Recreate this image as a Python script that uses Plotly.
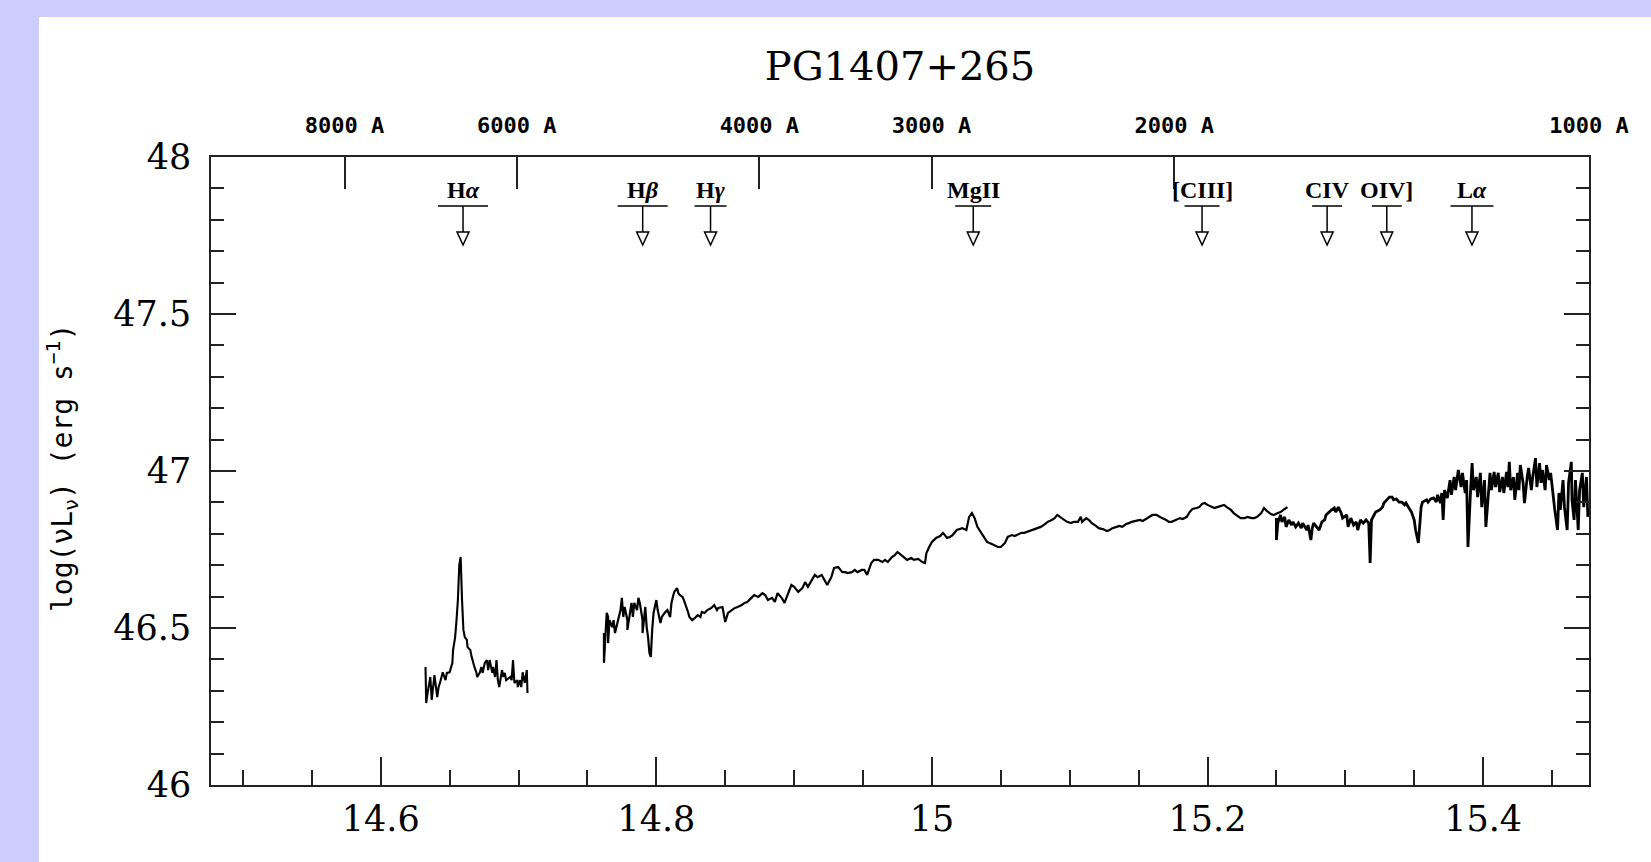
import numpy as np
import plotly.graph_objects as go

# ---------------- data ----------------
C_ANG = 2.998e18  # speed of light in Angstrom/s

title_text = "PG1407+265"

# H-alpha segment: log(nu), log(nu L_nu)
ha_x = [14.6325, 14.6330, 14.634, 14.636, 14.637, 14.638, 14.639, 14.641, 14.642, 14.643,
        14.645, 14.647, 14.648, 14.650, 14.652, 14.6525, 14.654, 14.655, 14.656, 14.657,
        14.658, 14.659, 14.660, 14.661, 14.6625, 14.663, 14.665, 14.666, 14.667, 14.668,
        14.6695, 14.670, 14.672, 14.673, 14.674, 14.6755, 14.677, 14.678, 14.679, 14.681,
        14.6815, 14.683, 14.684, 14.685, 14.686, 14.688, 14.689, 14.690, 14.691, 14.694,
        14.695, 14.696, 14.697, 14.699, 14.6995, 14.701, 14.702, 14.703, 14.7045, 14.706,
        14.7065]
ha_y = [46.376, 46.261, 46.293, 46.344, 46.271, 46.325, 46.350, 46.280, 46.312, 46.325,
        46.359, 46.334, 46.357, 46.359, 46.389, 46.430, 46.471, 46.525, 46.589, 46.700,
        46.726, 46.589, 46.494, 46.471, 46.462, 46.439, 46.430, 46.408, 46.389, 46.376,
        46.357, 46.344, 46.359, 46.376, 46.357, 46.389, 46.398, 46.366, 46.398, 46.357,
        46.376, 46.344, 46.398, 46.334, 46.312, 46.366, 46.344, 46.357, 46.334, 46.344,
        46.334, 46.398, 46.325, 46.334, 46.312, 46.334, 46.312, 46.359, 46.325, 46.366,
        46.293]

# optical segment
opt_x = [14.762, 14.762, 14.764, 14.765, 14.765, 14.766, 14.768, 14.769, 14.770, 14.771,
         14.772, 14.774, 14.775, 14.776, 14.777, 14.779, 14.779, 14.781, 14.782, 14.783,
         14.784, 14.786, 14.787, 14.788, 14.790, 14.790, 14.792, 14.793, 14.794, 14.795,
         14.796, 14.797, 14.798, 14.800, 14.801, 14.803, 14.804, 14.806, 14.808, 14.810,
         14.811, 14.812, 14.813, 14.815, 14.816, 14.817, 14.819, 14.820, 14.822, 14.823,
         14.824, 14.826, 14.828, 14.830, 14.832, 14.833, 14.835, 14.837, 14.840, 14.842,
         14.844, 14.845, 14.848, 14.849, 14.850, 14.852, 14.855, 14.857, 14.859, 14.862,
         14.864, 14.866, 14.869, 14.871, 14.874, 14.877, 14.879, 14.881, 14.884, 14.886,
         14.888, 14.891, 14.893, 14.895, 14.898, 14.900, 14.903, 14.906, 14.908, 14.910,
         14.913, 14.915, 14.917, 14.920, 14.922, 14.924, 14.927, 14.929, 14.932, 14.935,
         14.937, 14.939, 14.942, 14.944, 14.946, 14.949, 14.951, 14.953, 14.956, 14.958,
         14.961, 14.964, 14.966, 14.968, 14.971, 14.973, 14.975, 14.978, 14.980, 14.982,
         14.985, 14.987, 14.990, 14.993, 14.995, 14.996, 14.998, 15.000, 15.003, 15.006,
         15.008, 15.011, 15.013, 15.015, 15.018, 15.020, 15.022, 15.025, 15.027, 15.029,
         15.031, 15.033, 15.036, 15.038, 15.040, 15.043, 15.045, 15.048, 15.050, 15.053,
         15.055, 15.058, 15.060, 15.062, 15.065, 15.067, 15.069, 15.072, 15.074, 15.077,
         15.079, 15.082, 15.084, 15.087, 15.089, 15.091, 15.094, 15.096, 15.098, 15.101,
         15.103, 15.106, 15.108, 15.109, 15.112, 15.114, 15.116, 15.119, 15.121, 15.124,
         15.127, 15.129, 15.131, 15.134, 15.136, 15.138, 15.141, 15.143, 15.145, 15.148,
         15.151, 15.153, 15.156, 15.158, 15.160, 15.163, 15.165, 15.167, 15.170, 15.172,
         15.174, 15.177, 15.180, 15.182, 15.185, 15.187, 15.189, 15.192, 15.194, 15.196,
         15.198, 15.200, 15.203, 15.205, 15.207, 15.210, 15.212, 15.214, 15.217, 15.219,
         15.222, 15.224, 15.227, 15.229, 15.232, 15.234, 15.236, 15.239, 15.241, 15.243,
         15.246, 15.248, 15.251, 15.253, 15.256, 15.258]
opt_y = [46.484, 46.389, 46.548, 46.535, 46.452, 46.525, 46.503, 46.525, 46.484, 46.503,
         46.525, 46.557, 46.596, 46.535, 46.567, 46.525, 46.494, 46.548, 46.580, 46.535,
         46.580, 46.557, 46.596, 46.580, 46.525, 46.484, 46.567, 46.503, 46.471, 46.420,
         46.408, 46.494, 46.548, 46.589, 46.557, 46.516, 46.535, 46.548, 46.557, 46.535,
         46.580, 46.599, 46.615, 46.627, 46.611, 46.605, 46.599, 46.589, 46.567, 46.551,
         46.535, 46.525, 46.532, 46.541, 46.535, 46.551, 46.548, 46.557, 46.564, 46.573,
         46.557, 46.564, 46.567, 46.535, 46.519, 46.548, 46.557, 46.564, 46.567, 46.573,
         46.580, 46.583, 46.596, 46.605, 46.599, 46.611, 46.605, 46.589, 46.596, 46.583,
         46.611, 46.596, 46.580, 46.605, 46.637, 46.631, 46.615, 46.627, 46.646, 46.631,
         46.653, 46.669, 46.662, 46.669, 46.653, 46.637, 46.662, 46.691, 46.694, 46.678,
         46.678, 46.675, 46.678, 46.685, 46.678, 46.685, 46.685, 46.669, 46.707, 46.717,
         46.717, 46.710, 46.717, 46.710, 46.726, 46.732, 46.742, 46.732, 46.726, 46.717,
         46.723, 46.717, 46.720, 46.710, 46.707, 46.739, 46.758, 46.774, 46.787, 46.793,
         46.803, 46.787, 46.790, 46.796, 46.812, 46.815, 46.818, 46.812, 46.854, 46.866,
         46.850, 46.822, 46.803, 46.787, 46.774, 46.768, 46.764, 46.758, 46.758, 46.771,
         46.790, 46.796, 46.793, 46.796, 46.803, 46.803, 46.806, 46.812, 46.815, 46.818,
         46.822, 46.831, 46.838, 46.844, 46.850, 46.860, 46.850, 46.844, 46.838, 46.834,
         46.838, 46.838, 46.854, 46.838, 46.850, 46.844, 46.834, 46.825, 46.818, 46.815,
         46.809, 46.812, 46.818, 46.822, 46.825, 46.822, 46.831, 46.834, 46.838, 46.841,
         46.844, 46.841, 46.850, 46.854, 46.860, 46.860, 46.854, 46.850, 46.844, 46.838,
         46.838, 46.844, 46.850, 46.847, 46.854, 46.869, 46.879, 46.882, 46.885, 46.895,
         46.898, 46.892, 46.885, 46.882, 46.885, 46.889, 46.892, 46.885, 46.876, 46.866,
         46.857, 46.850, 46.850, 46.854, 46.850, 46.850, 46.854, 46.866, 46.882, 46.873,
         46.863, 46.860, 46.866, 46.869, 46.879, 46.885]

# UV segment
uv_x = [15.250, 15.250, 15.251, 15.253, 15.254, 15.256, 15.257, 15.259, 15.261, 15.262,
        15.264, 15.266, 15.268, 15.269, 15.272, 15.273, 15.275, 15.276, 15.277, 15.279,
        15.281, 15.283, 15.285, 15.286, 15.288, 15.290, 15.292, 15.293, 15.295, 15.297,
        15.298, 15.301, 15.302, 15.304, 15.306, 15.308, 15.309, 15.311, 15.313, 15.315,
        15.317, 15.318, 15.319, 15.321, 15.322, 15.325, 15.327, 15.328, 15.330, 15.332,
        15.334, 15.335, 15.337, 15.339, 15.341, 15.343, 15.344, 15.346, 15.348, 15.350,
        15.351, 15.353, 15.354, 15.355, 15.356, 15.359, 15.360, 15.362, 15.364, 15.366,
        15.367, 15.369, 15.370, 15.371, 15.372, 15.374, 15.376, 15.377, 15.379, 15.380,
        15.382, 15.384, 15.385, 15.387, 15.388, 15.389, 15.391, 15.392, 15.393, 15.395,
        15.396, 15.398, 15.399, 15.401, 15.402, 15.404, 15.405, 15.406, 15.408, 15.409,
        15.411, 15.412, 15.414, 15.415, 15.417, 15.418, 15.419, 15.420, 15.422, 15.423,
        15.425, 15.426, 15.427, 15.429, 15.430, 15.432, 15.433, 15.435, 15.436, 15.438,
        15.439, 15.441, 15.442, 15.443, 15.445, 15.446, 15.448, 15.449, 15.451, 15.452,
        15.454, 15.455, 15.456, 15.458, 15.459, 15.461, 15.462, 15.464, 15.4645, 15.466,
        15.467, 15.469, 15.470, 15.472, 15.473, 15.475, 15.476]
uv_y = [46.850, 46.780, 46.834, 46.860, 46.838, 46.854, 46.822, 46.844, 46.828, 46.838,
        46.822, 46.834, 46.818, 46.834, 46.812, 46.828, 46.780, 46.818, 46.834, 46.822,
        46.812, 46.838, 46.844, 46.860, 46.869, 46.876, 46.882, 46.869, 46.885, 46.866,
        46.850, 46.860, 46.822, 46.850, 46.828, 46.838, 46.812, 46.844, 46.834, 46.844,
        46.834, 46.707, 46.844, 46.860, 46.869, 46.876, 46.885, 46.898, 46.908, 46.917,
        46.917, 46.908, 46.911, 46.901, 46.901, 46.892, 46.898, 46.882, 46.869, 46.844,
        46.812, 46.771, 46.822, 46.885, 46.901, 46.908, 46.901, 46.911, 46.914, 46.901,
        46.924, 46.898, 46.930, 46.844, 46.939, 46.914, 46.971, 46.924, 46.981, 46.939,
        47.003, 46.949, 46.994, 46.930, 46.971, 46.758, 46.949, 47.025, 46.939, 46.981,
        46.917, 46.994, 46.885, 46.971, 46.822, 46.962, 46.994, 46.939, 46.997, 46.949,
        46.994, 46.933, 46.981, 46.930, 46.997, 46.949, 47.029, 46.939, 46.981, 46.908,
        46.994, 46.939, 47.019, 46.962, 46.898, 46.981, 47.010, 46.939, 46.981, 47.041,
        46.949, 47.025, 46.962, 47.003, 46.939, 47.019, 46.971, 46.994, 46.908, 46.876,
        46.812, 46.930, 46.876, 46.971, 46.885, 46.812, 46.962, 47.029, 46.908, 46.844,
        46.971, 46.812, 46.939, 46.994, 46.885, 46.981, 46.854]

# emission lines (rest wavelength in Angstrom) and labels
line_wave = [6563, 4861, 4340, 2798, 1909, 1549, 1402, 1216]
line_label = ["H<i>α</i>", "H<i>β</i>", "H<i>γ</i>", "MgII", "[CIII]", "CIV", "OIV]", "L<i>α</i>"]

# axis ticks
x_tick_vals = [14.6, 14.8, 15.0, 15.2, 15.4]
x_tick_text = ["14.6", "14.8", "15", "15.2", "15.4"]
y_tick_vals = [46.0, 46.5, 47.0, 47.5, 48.0]
y_tick_text = ["46", "46.5", "47", "47.5", "48"]
top_wave = [8000, 6000, 4000, 3000, 2000, 1000]
top_text = ["8000 A", "6000 A", "4000 A", "3000 A", "2000 A", "1000 A"]
range_wave = [10000, 1000]
y_range = [46, 48]

# ---------------- styling (layout only) ----------------
bar_px = [50, 50, 32, 36, 35, 30, 30, 43]
W, H = 1651, 862
ML, MR, MT, MB = 211, 62, 157, 77
PW, PH = W - ML - MR, H - MT - MB


def py(pix_from_top):
    """paper y for a pixel row of the page"""
    return (H - MB - pix_from_top) / PH


def px(pix_from_left):
    return (pix_from_left - ML) / PW


x_range = [np.log10(C_ANG / range_wave[0]), np.log10(C_ANG / range_wave[1])]
line_x = [np.log10(C_ANG / w) for w in line_wave]
top_x = [np.log10(C_ANG / w) for w in top_wave]

fig = go.Figure()
for sx, sy, lw in [(ha_x, ha_y, 2.1), (opt_x, opt_y, 2.2), (uv_x, uv_y, 2.8)]:
    fig.add_trace(go.Scatter(x=sx, y=sy, mode="lines",
                             line=dict(color="black", width=lw),
                             hoverinfo="skip", showlegend=False))
fig.add_trace(go.Scatter(x=top_x, y=[None] * len(top_x), xaxis="x2", mode="markers",
                         showlegend=False, hoverinfo="skip"))

axis_col = "#222222"
serif = "DejaVu Serif"

shapes = [dict(type="rect", xref="paper", yref="paper",
               x0=px(39), x1=px(W + 20), y0=py(H + 20), y1=py(17),
               fillcolor="white", line=dict(width=0), layer="below")]

annotations = []
y_lab, y_bar, y_tri = py(190), py(206), py(232)
for lx, lab, bw in zip(line_x, line_label, bar_px):
    annotations.append(dict(x=lx, y=y_lab, xref="x", yref="paper", text="<b>%s</b>" % lab,
                            showarrow=False, xanchor="center", yanchor="middle",
                            font=dict(family="Liberation Serif", size=24, color="black")))
    shapes.append(dict(type="line", xref="x", yref="paper", xsizemode="pixel", xanchor=lx,
                       x0=-bw / 2, x1=bw / 2, y0=y_bar, y1=y_bar,
                       line=dict(color="black", width=1.5)))
    shapes.append(dict(type="line", xref="x", yref="paper", x0=lx, x1=lx, y0=y_bar, y1=y_tri,
                       line=dict(color="black", width=1.5)))
    shapes.append(dict(type="path", xref="x", yref="paper", xsizemode="pixel", ysizemode="pixel",
                       xanchor=lx, yanchor=y_tri, path="M -6,0 L 6,0 L 0,-13 Z",
                       fillcolor="white", line=dict(color="black", width=1.5)))

annotations.append(dict(x=px(63), y=py(468), xref="paper", yref="paper",
                        text="log(νL<sub>ν</sub>) (erg s<sup>−1</sup>)",
                        textangle=-90, showarrow=False, xanchor="center", yanchor="middle",
                        font=dict(family="DejaVu Sans Mono", size=28, color="black")))

fig.update_layout(
    width=W, height=H,
    margin=dict(l=ML, r=MR, t=MT, b=MB, pad=0),
    paper_bgcolor="#CCCCFF", plot_bgcolor="white",
    title=dict(text=title_text, x=0.5, xref="paper", xanchor="center",
               y=1 - 66 / H, yref="container", yanchor="middle",
               font=dict(family=serif, size=40, color="black")),
    xaxis=dict(range=x_range, showgrid=False, zeroline=False,
               showline=True, linecolor=axis_col, linewidth=1.5, mirror=True,
               ticks="inside", ticklen=28, tickwidth=1.5, tickcolor=axis_col,
               tickvals=x_tick_vals, ticktext=x_tick_text,
               tickfont=dict(family=serif, size=35, color="black"),
               ticklabelstandoff=2,
               minor=dict(ticks="inside", ticklen=15, tickwidth=1.5, tickcolor=axis_col,
                          dtick=0.05, tick0=14.5, showgrid=False)),
    xaxis2=dict(range=x_range, overlaying="x", side="top", showgrid=False, zeroline=False,
                showline=False, ticks="inside", ticklen=32, tickwidth=1.5, tickcolor=axis_col,
                tickvals=top_x, ticktext=top_text,
                tickfont=dict(family="DejaVu Sans Mono", size=22, color="black", weight="bold"),
                ticklabelstandoff=19),
    yaxis=dict(range=y_range, showgrid=False, zeroline=False,
               showline=True, linecolor=axis_col, linewidth=1.5, mirror="ticks",
               ticks="inside", ticklen=25, tickwidth=1.5, tickcolor=axis_col,
               tickvals=y_tick_vals, ticktext=y_tick_text,
               tickfont=dict(family=serif, size=35, color="black"),
               ticklabelstandoff=11,
               minor=dict(ticks="inside", ticklen=13, tickwidth=1.5, tickcolor=axis_col,
                          dtick=0.1, tick0=46, showgrid=False)),
    shapes=shapes, annotations=annotations,
    showlegend=False,
)

fig.write_html("out.html")
